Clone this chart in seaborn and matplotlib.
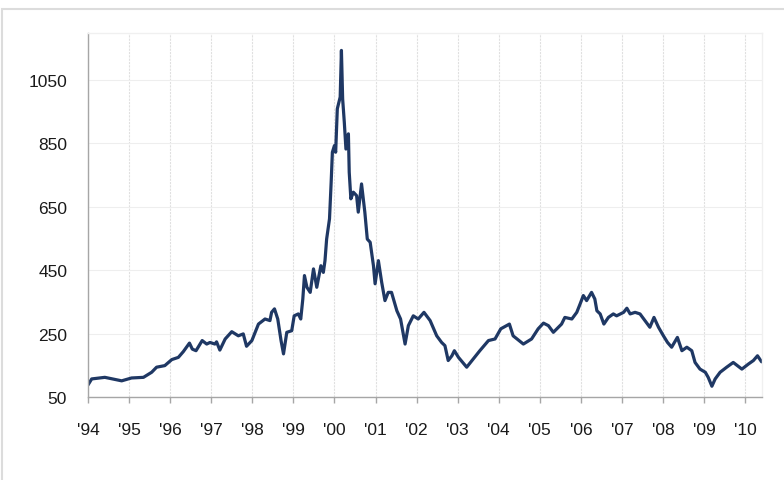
import numpy as np
import pandas as pd
import seaborn as sns
import matplotlib.pyplot as plt
from matplotlib.patches import Rectangle

# время в долях года и значение индекса
t_years = [
    1994.00, 1994.09, 1994.41, 1994.82, 1995.06, 1995.35, 1995.55, 1995.67, 1995.87,
    1996.04, 1996.20, 1996.32, 1996.47, 1996.54, 1996.63, 1996.78, 1996.89, 1996.97,
    1997.09, 1997.13, 1997.21, 1997.34, 1997.50, 1997.66, 1997.78, 1997.86, 1997.99,
    1998.15, 1998.31, 1998.43, 1998.47, 1998.54, 1998.62, 1998.70, 1998.76, 1998.84,
    1998.96, 1999.02, 1999.12, 1999.18, 1999.23, 1999.27, 1999.33, 1999.41, 1999.49,
    1999.57, 1999.67, 1999.73, 1999.77, 1999.81, 1999.88, 1999.92, 1999.95, 2000.00,
    2000.03, 2000.07, 2000.14, 2000.17, 2000.20, 2000.24, 2000.28, 2000.34, 2000.36,
    2000.40, 2000.46, 2000.54, 2000.58, 2000.66, 2000.74, 2000.80, 2000.87, 2000.95,
    2000.99, 2001.07, 2001.15, 2001.23, 2001.31, 2001.39, 2001.52, 2001.61, 2001.72,
    2001.80, 2001.92, 2002.04, 2002.18, 2002.33, 2002.49, 2002.61, 2002.69, 2002.77,
    2002.86, 2002.92, 2003.02, 2003.22, 2003.38, 2003.54, 2003.75, 2003.91, 2004.05,
    2004.26, 2004.35, 2004.60, 2004.80, 2004.96, 2005.09, 2005.21, 2005.33, 2005.53,
    2005.61, 2005.78, 2005.90, 2005.98, 2006.06, 2006.14, 2006.26, 2006.34, 2006.39,
    2006.47, 2006.56, 2006.67, 2006.79, 2006.87, 2007.04, 2007.12, 2007.20, 2007.32,
    2007.44, 2007.56, 2007.68, 2007.78, 2007.89, 2008.01, 2008.11, 2008.21, 2008.35,
    2008.46, 2008.58, 2008.70, 2008.78, 2008.90, 2009.03, 2009.10, 2009.19, 2009.27,
    2009.39, 2009.55, 2009.71, 2009.92, 2010.08, 2010.20, 2010.30, 2010.40,
]
index_values = [
    88, 107, 112, 101, 110, 112, 128, 144, 149,
    168, 175, 193, 220, 201, 196, 228, 217, 222,
    217, 224, 198, 233, 256, 243, 249, 210, 228,
    280, 296, 291, 317, 328, 296, 228, 186, 254,
    259, 306, 312, 296, 359, 433, 396, 380, 454,
    396, 464, 443, 480, 548, 612, 727, 822, 843,
    822, 959, 996, 1143, 990, 917, 832, 880, 759,
    675, 696, 685, 633, 722, 633, 548, 538, 464,
    407, 480, 412, 354, 380, 380, 322, 296, 217,
    275, 306, 296, 317, 291, 243, 222, 212, 165,
    180, 196, 175, 144, 170, 196, 228, 233, 265,
    280, 243, 217, 233, 265, 283, 275, 254, 280,
    301, 296, 317, 343, 370, 354, 380, 359, 322,
    312, 280, 301, 312, 306, 317, 330, 312, 317,
    312, 291, 270, 301, 270, 243, 222, 207, 238,
    196, 207, 196, 159, 138, 128, 112, 84, 107,
    128, 144, 159, 138, 154, 165, 180, 161,
]
year_ticks = list(range(1994, 2011))
year_labels = ["'" + str(y)[2:] for y in year_ticks]
y_ticks = [50, 250, 450, 650, 850, 1050]

df = pd.DataFrame({"t": t_years, "value": index_values})

sns.set_style("white")
plt.rcParams['font.family'] = ['Liberation Sans', 'DejaVu Sans']

fig = plt.figure(figsize=(7.84, 4.81), dpi=100)
ax = fig.add_axes([88 / 784, 1 - 398 / 481, (762 - 88) / 784, (398 - 34) / 481])

# серая рамка вокруг рисунка
fig.patches.append(Rectangle((2 / 784, -0.1), 1.2, 1 - 10 / 481 + 0.1,
                             transform=fig.transFigure, fill=False,
                             edgecolor='#dcdcdc', linewidth=1.5))

sns.lineplot(data=df, x="t", y="value", ax=ax, color='#1f3864', linewidth=2.3)

ax.set_xlim(1994, 2010.41)
ax.set_ylim(50, 1198)
ax.set_xticks(year_ticks)
ax.set_xticklabels(year_labels)
ax.set_yticks(y_ticks)
ax.set_xlabel("")
ax.set_ylabel("")

ax.grid(axis='x', color='#e0e0e0', linestyle=(0, (2, 1)), linewidth=0.8)
ax.grid(axis='y', color='#eeeeee', linestyle='-', linewidth=0.8)
ax.set_axisbelow(True)

for s in ['left', 'bottom']:
    ax.spines[s].set_color('#a6a6a6')
    ax.spines[s].set_linewidth(1.0)
for s in ['top', 'right']:
    ax.spines[s].set_color('#f0f0f0')
    ax.spines[s].set_linewidth(1.0)

ax.tick_params(axis='x', length=4, width=1.0, color='#a6a6a6', pad=14,
               labelsize=12.5, labelcolor='#1a1a1a', bottom=True)
ax.tick_params(axis='y', length=0, pad=15, labelsize=12.5, labelcolor='#1a1a1a')

fig.savefig("out.png", dpi=100)
